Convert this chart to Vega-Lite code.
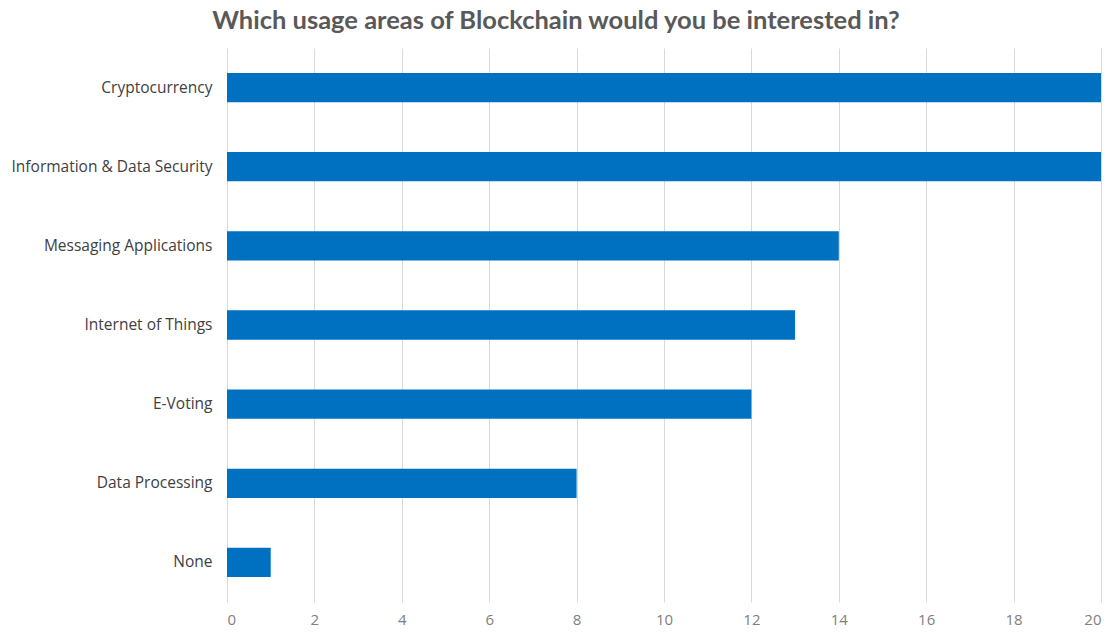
{
  "$schema": "https://vega.github.io/schema/vega-lite/v6.json",
  "width": 874,
  "height": 554,
  "autosize": "none",
  "padding": {"left": 227, "top": 48, "right": 14, "bottom": 30},
  "background": "white",
  "title": {
    "text": "Which usage areas of Blockchain would you be interested in?",
    "font": "Lato",
    "fontSize": 25.5,
    "fontWeight": "bold",
    "color": "#595959",
    "anchor": "middle",
    "frame": "bounds",
    "offset": 14
  },
  "data": {
    "values": [
      {"area": "Cryptocurrency", "count": 20},
      {"area": "Information & Data Security", "count": 20},
      {"area": "Messaging Applications", "count": 14},
      {"area": "Internet of Things", "count": 13},
      {"area": "E-Voting", "count": 12},
      {"area": "Data Processing", "count": 8},
      {"area": "None", "count": 1}
    ]
  },
  "mark": {"type": "bar", "color": "#0070C0"},
  "encoding": {
    "y": {
      "field": "area",
      "type": "nominal",
      "sort": null,
      "scale": {"paddingInner": 0.63, "paddingOuter": 0.315},
      "axis": {
        "title": null,
        "domain": false,
        "ticks": false,
        "labelPadding": 15,
        "labelFont": "Open Sans",
        "labelFontSize": 15.5,
        "labelColor": "#404040",
        "labelLimit": 300
      }
    },
    "x": {
      "field": "count",
      "type": "quantitative",
      "scale": {"domain": [0, 20], "nice": false},
      "axis": {
        "title": null,
        "domain": false,
        "ticks": false,
        "values": [0, 2, 4, 6, 8, 10, 12, 14, 16, 18, 20],
        "grid": true,
        "gridColor": "#d9d9d9",
        "labelPadding": 10,
        "labelFont": "Open Sans",
        "labelFontSize": 15,
        "labelColor": "#808080"
      }
    }
  },
  "config": {"view": {"stroke": null}}
}
